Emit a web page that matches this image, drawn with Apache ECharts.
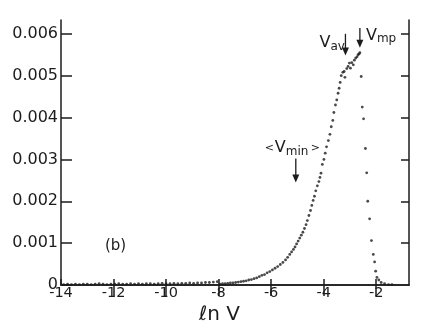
<!DOCTYPE html>
<html>
<head>
<meta charset="utf-8">
<script src="https://cdn.jsdelivr.net/npm/echarts@6/dist/echarts.min.js"></script>
<style>
  html, body { margin: 0; padding: 0; background: #fff; }
  #main { width: 432px; height: 334px; }
</style>
</head>
<body>
<div id="main"></div>
<script>
// tick labels
const xTicks = [-14, -12, -10, -8, -6, -4, -2]
const yTicks = [0, 0.001, 0.002, 0.003, 0.004, 0.005, 0.006]

// flat part near zero (ln V, density)
const baseX = [-13.9, -13.75, -13.6, -13.45, -13.3, -13.15, -13.0, -12.85, -12.7, -12.55, -12.4, -12.25, -12.1, -11.95, -11.8, -11.65, -11.5, -11.35, -11.2, -11.05, -10.9, -10.75, -10.6, -10.45, -10.3, -10.15, -10.0, -9.85, -9.7, -9.55, -9.4, -9.25, -9.1, -8.95, -8.8, -8.65, -8.5, -8.35, -8.2, -8.05]
const baseY = [0.00001, 0.00002, 0.00001, 0.00002, 0.00001, 0.00002, 0.00002, 0.00001, 0.00002, 0.00003, 0.00002, 0.00001, 0.00002, 0.00002, 0.00003, 0.00002, 0.00002, 0.00003, 0.00002, 0.00003, 0.00002, 0.00003, 0.00003, 0.00002, 0.00003, 0.00004, 0.00003, 0.00003, 0.00004, 0.00003, 0.00004, 0.00004, 0.00005, 0.00004, 0.00005, 0.00005, 0.00006, 0.00006, 0.00007, 0.00008]

// rising branch
const riseX = [-7.95, -7.85, -7.75, -7.65, -7.55, -7.45, -7.35, -7.25, -7.15, -7.05, -6.95, -6.85, -6.75, -6.65, -6.55, -6.45, -6.35, -6.25, -6.15, -6.05, -5.95, -5.85, -5.75, -5.65, -5.55, -5.45, -5.37, -5.29, -5.22, -5.15, -5.09, -5.03, -4.97, -4.91, -4.85, -4.79, -4.73, -4.67, -4.62, -4.56, -4.50, -4.45, -4.40, -4.35, -4.30, -4.24, -4.18, -4.14, -4.10, -4.05, -3.99, -3.94, -3.89, -3.82, -3.76, -3.71, -3.65, -3.61, -3.55, -3.50, -3.45, -3.41, -3.37, -3.33, -3.27, -3.22, -3.19, -3.12, -3.07, -3.02, -2.98, -2.93, -2.87, -2.83, -2.78, -2.73, -2.69, -2.65, -2.62]
const riseY = [0.00002, 0.00003, 0.00003, 0.00004, 0.00005, 0.00005, 0.00006, 0.00007, 0.00008, 0.00009, 0.00010, 0.00012, 0.00013, 0.00015, 0.00017, 0.00020, 0.00023, 0.00025, 0.00029, 0.00032, 0.00036, 0.00040, 0.00044, 0.00049, 0.00054, 0.00060, 0.00066, 0.00073, 0.00079, 0.00085, 0.00091, 0.00098, 0.00105, 0.00112, 0.00119, 0.00126, 0.00135, 0.00144, 0.00154, 0.00166, 0.00178, 0.00190, 0.00202, 0.00212, 0.00225, 0.00237, 0.00247, 0.00257, 0.00267, 0.00288, 0.00300, 0.00315, 0.00330, 0.00345, 0.00360, 0.00378, 0.00393, 0.00412, 0.00430, 0.00442, 0.00458, 0.00470, 0.00484, 0.00500, 0.00508, 0.00510, 0.00496, 0.00517, 0.00522, 0.00530, 0.00518, 0.00531, 0.00526, 0.00537, 0.00542, 0.00545, 0.00550, 0.00552, 0.00555]

// falling branch
const fallX = [-2.57, -2.53, -2.48, -2.41, -2.36, -2.32, -2.25, -2.18, -2.11, -2.06, -2.02, -1.97, -1.90, -1.81, -1.68, -1.53, -1.40]
const fallY = [0.00498, 0.00425, 0.00397, 0.00326, 0.00268, 0.00200, 0.00158, 0.00106, 0.00073, 0.00055, 0.00033, 0.00018, 0.00012, 0.00006, 0.00003, 0.00001, 0.00001]

const font = 'DejaVu Sans'
const ink = '#1c1c1c'

let pairs = (xs, ys) => xs.map((x, i) => [x, ys[i]])

let lineStyle = { color: ink, width: 1.5 }
let dotSeries = (name, data) => ({
    name: name,
    type: 'scatter',
    data: data,
    symbol: 'circle',
    symbolSize: 2.8,
    itemStyle: { color: ink },
    silent: true
})

let chart = echarts.init(document.getElementById('main'))

let options = {
    animation: false,
    grid: { left: 61, right: 23, top: 20, bottom: 49 },
    xAxis: [
        {
            type: 'value', min: -14, max: -0.75, position: 'bottom',
            axisLine: { lineStyle: lineStyle },
            axisTick: { inside: true, length: 6, customValues: xTicks, lineStyle: lineStyle },
            axisLabel: { customValues: xTicks, margin: 1, fontSize: 14.5, color: ink, fontFamily: font },
            splitLine: { show: false }
        },
        {
            type: 'value', min: -14, max: -0.75, position: 'top',
            axisLine: { lineStyle: lineStyle },
            axisTick: { inside: true, length: 11, customValues: xTicks.slice(1), lineStyle: lineStyle },
            axisLabel: { show: false },
            splitLine: { show: false }
        }
    ],
    yAxis: [
        {
            type: 'value', min: 0, max: 0.00633, position: 'left',
            axisLine: { show: true, lineStyle: lineStyle },
            axisTick: { show: true, inside: true, length: 11, customValues: yTicks, lineStyle: lineStyle },
            axisLabel: {
                customValues: yTicks, margin: 3, fontSize: 16, color: ink, fontFamily: font,
                formatter: v => v === 0 ? '0' : v.toFixed(3)
            },
            splitLine: { show: false }
        },
        {
            type: 'value', min: 0, max: 0.00633, position: 'right',
            axisLine: { show: true, lineStyle: lineStyle },
            axisTick: { show: true, inside: true, length: 8, customValues: yTicks.slice(1), lineStyle: lineStyle },
            axisLabel: { show: false },
            splitLine: { show: false }
        }
    ],
    series: [
        dotSeries('base', pairs(baseX, baseY)),
        dotSeries('rise', pairs(riseX, riseY)),
        dotSeries('fall', pairs(fallX, fallY))
    ]
}
chart.setOption(options)

// annotations, anchored in data coordinates
let toPx = (x, y) => chart.convertToPixel({ xAxisIndex: 0, yAxisIndex: 0 }, [x, y])
let txt = (s, x, y, size) => ({
    type: 'text', x: x, y: y, silent: true,
    style: { text: s, fontSize: size, fontFamily: font, fill: ink }
})
let arrow = (x, yTop, yTip) => {
    let a = toPx(x, yTop), b = toPx(x, yTip)
    return [
        { type: 'line', silent: true, shape: { x1: a[0], y1: a[1], x2: b[0], y2: b[1] - 6 }, style: { stroke: ink, lineWidth: 1.3 } },
        { type: 'polygon', silent: true, shape: { points: [[b[0] - 3.5, b[1] - 8], [b[0] + 3.5, b[1] - 8], [b[0], b[1]]] }, style: { fill: ink } }
    ]
}

let av = toPx(-3.17, 0.0060)
let mp = toPx(-2.62, 0.00614)
let mn = toPx(-5.06, 0.00302)

let graphics = []
    .concat(arrow(-3.17, 0.0060, 0.00548))
    .concat(arrow(-2.62, 0.00614, 0.00567))
    .concat(arrow(-5.06, 0.00302, 0.00245))
    .concat([
        txt('V', av[0] - 26, av[1] + 1, 16),
        txt('av', av[0] - 15, av[1] + 7, 12),
        txt('V', mp[0] + 6, mp[1] + 0, 16),
        txt('mp', mp[0] + 17, mp[1] + 5, 12),
        txt('<', mn[0] - 31, mn[1] - 16, 11),
        txt('V', mn[0] - 21, mn[1] - 19, 16),
        txt('min', mn[0] - 10, mn[1] - 13, 12),
        txt('>', mn[0] + 15, mn[1] - 16, 11),
        txt('(b)', 105, 239, 15),
        txt('ℓn V', 199, 305, 20)
    ])

chart.setOption({ graphic: graphics })

window.addEventListener('resize', () => {
    chart?.resize()
})
</script>
</body>
</html>
